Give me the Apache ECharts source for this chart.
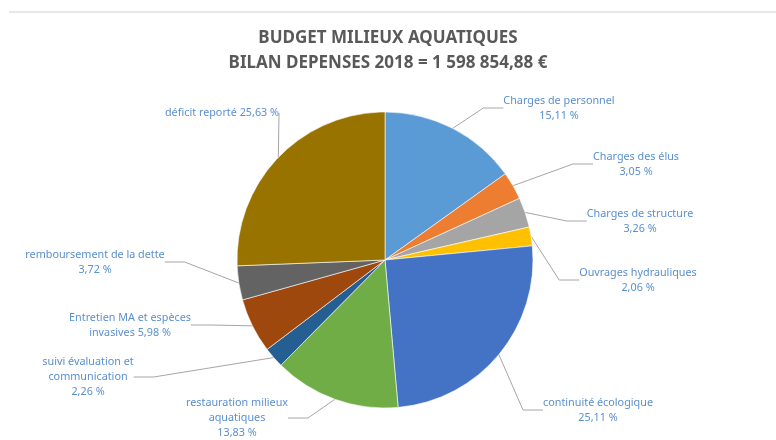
<!DOCTYPE html>
<html>
<head>
<meta charset="utf-8">
<script src="https://cdn.jsdelivr.net/npm/echarts@6/dist/echarts.min.js"></script>
<style>
  html, body { margin: 0; padding: 0; background: #fff; }
  #chart { width: 776px; height: 440px; }
</style>
</head>
<body>
<div id="chart"></div>
<script>
// Budget milieux aquatiques - répartition des dépenses 2018 (en %)
const categories = [
  'Charges de personnel',
  'Charges des élus',
  'Charges de structure',
  'Ouvrages hydrauliques',
  'continuité écologique',
  'restauration milieux aquatiques',
  'suivi évaluation et communication',
  'Entretien MA et espèces invasives',
  'remboursement de la dette',
  'déficit reporté'
];
const shares = [15.11, 3.05, 3.26, 2.06, 25.11, 13.83, 2.26, 5.98, 3.72, 25.63];

// How each label is broken into lines; {v} is replaced by the share
const labelTemplates = [
  'Charges de personnel\n{v}',
  'Charges des élus\n{v}',
  'Charges de structure\n{v}',
  'Ouvrages hydrauliques\n{v}',
  'continuité écologique\n{v}',
  'restauration milieux\naquatiques\n{v}',
  'suivi évaluation et\ncommunication\n{v}',
  'Entretien MA et espèces\ninvasives {v}',
  'remboursement de la dette\n{v}',
  'déficit reporté {v}'
];

const sliceColors = ['#5B9BD5', '#ED7D31', '#A5A5A5', '#FFC000', '#4472C4',
                     '#70AD47', '#255E91', '#9E480E', '#636363', '#997300'];

// Label anchor (text centre) for each slice
const labelAnchors = [
  [559, 108], [636, 164], [640, 221], [638, 280], [598, 410],
  [237, 418], [88, 377], [130, 325], [95, 262], [222, 113]
];

const fmtPct = v => v.toFixed(2).replace('.', ',') + ' %';

const chart = echarts.init(document.getElementById('chart'), null, { renderer: 'canvas' });

chart.setOption({
  backgroundColor: '#ffffff',
  animation: false,
  title: {
    text: 'BUDGET MILIEUX AQUATIQUES\nBILAN DEPENSES 2018 = 1 598 854,88 €',
    left: 'center',
    top: 21,
    textStyle: {
      fontFamily: 'Noto Sans',
      fontSize: 17,
      fontWeight: 'bold',
      color: '#595959',
      lineHeight: 25
    }
  },
  graphic: [{
    type: 'line',
    shape: { x1: 9, y1: 12, x2: 776, y2: 12 },
    style: { stroke: '#e8e8e8', lineWidth: 2 },
    silent: true
  }],
  series: [{
    type: 'pie',
    center: [385, 260],
    radius: 148,
    startAngle: 90,
    clockwise: true,
    avoidLabelOverlap: false,
    itemStyle: { borderColor: '#ffffff', borderWidth: 0.6 },
    label: {
      show: true,
      fontFamily: 'Noto Sans',
      fontSize: 10.8,
      lineHeight: 15,
      color: '#5a8fd0',
      align: 'center',
      formatter: p => labelTemplates[p.dataIndex].replace('{v}', fmtPct(p.value))
    },
    labelLine: {
      show: true,
      length: 15,
      length2: 20,
      lineStyle: { color: '#a6a6a6', width: 1 }
    },
    labelLayout: p => {
      const a = labelAnchors[p.dataIndex];
      return { x: a[0], y: a[1], align: 'center', verticalAlign: 'middle' };
    },
    data: categories.map((name, i) => ({
      name,
      value: shares[i],
      itemStyle: { color: sliceColors[i] }
    }))
  }]
});
</script>
</body>
</html>
